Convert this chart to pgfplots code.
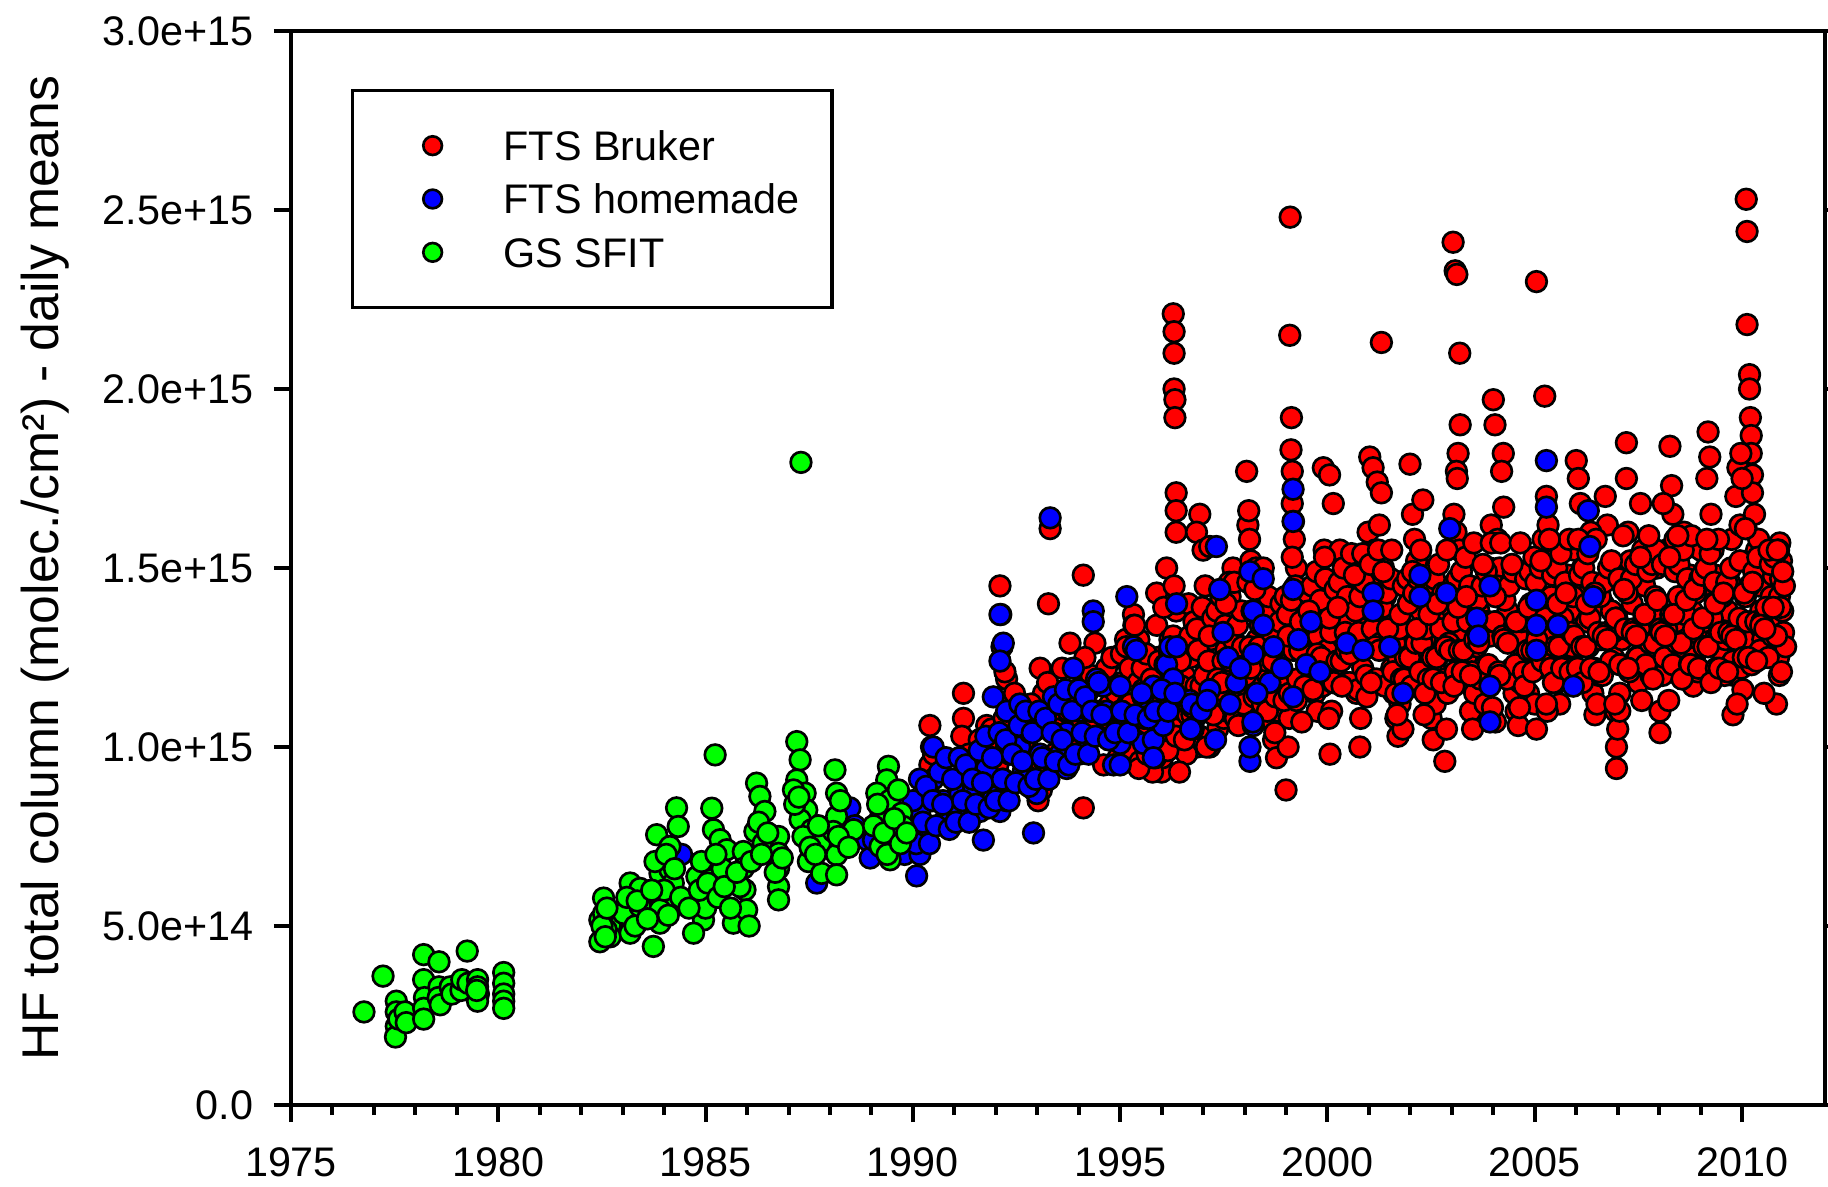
\documentclass[border=0pt]{standalone}
\usepackage{fontspec}
\setmainfont{Liberation Sans}
\usepackage{pgfplots}
\usepackage{pgfplotstable}
\pgfplotsset{compat=1.18}
\usetikzlibrary{calc}
\definecolor{fred}{RGB}{255,0,0}
\definecolor{fblue}{RGB}{0,0,255}
\definecolor{fgreen}{RGB}{0,255,0}

\pgfplotstableread{
x y
1990.41 1.06e15
1990.41 0.95e15
1990.45 1.00e15
1990.50 0.98e15
1991.14 0.97e15
1991.22 1.15e15
1991.22 1.08e15
1991.18 1.03e15
1991.30 0.80e15
1991.40 0.92e15
1991.55 0.88e15
1991.78 1.06e15
1991.78 1.01e15
1991.94 0.93e15
1991.70 0.96e15
1991.85 0.89e15
1992.10 1.45e15
1992.12 1.37e15
1992.15 1.28e15
1992.26 1.19e15
1992.22 1.21e15
1992.30 1.12e15
1992.40 1.05e15
1992.55 0.98e15
1992.65 0.92e15
1992.80 0.95e15
1992.92 0.88e15
1992.35 1.00e15
1992.50 1.08e15
1993.07 1.22e15
1993.15 1.15e15
1993.27 1.40e15
1993.31 1.61e15
1993.35 1.10e15
1993.45 1.05e15
1993.55 1.15e15
1993.65 1.13e15
1993.75 1.10e15
1993.79 1.29e15
1993.90 1.02e15
1993.20 0.95e15
1993.10 0.88e15
1993.02 0.85e15
1994.11 1.48e15
1994.11 0.83e15
1994.05 1.08e15
1994.20 1.15e15
1994.30 1.20e15
1994.39 1.29e15
1994.45 1.10e15
1994.55 1.05e15
1994.67 1.22e15
1994.75 1.12e15
1994.85 1.02e15
1994.95 0.97e15
1994.60 0.95e15
1994.80 1.25e15
1995.05 1.18e15
1995.15 1.30e15
1995.25 1.25e15
1995.32 1.37e15
1995.40 1.10e15
1995.48 1.05e15
1995.56 0.98e15
1995.60 0.95e15
1995.70 1.00e15
1995.80 1.10e15
1995.88 1.43e15
1995.88 1.34e15
1995.92 1.20e15
1995.95 1.05e15
1995.20 1.12e15
1995.35 1.02e15
1996.28 2.21e15
1996.30 2.16e15
1996.30 2.10e15
1996.30 2.00e15
1996.32 1.97e15
1996.32 1.92e15
1996.35 1.71e15
1996.35 1.66e15
1996.35 1.60e15
1996.12 1.50e15
1996.30 1.45e15
1996.35 1.38e15
1996.40 1.30e15
1996.35 1.25e15
1996.30 1.18e15
1996.00 0.93e15
1996.02 0.97e15
1996.05 1.02e15
1996.10 1.08e15
1996.15 1.15e15
1996.20 1.22e15
1996.45 1.12e15
1996.55 1.20e15
1996.60 1.30e15
1996.65 1.40e15
1996.70 1.25e15
1996.75 1.15e15
1996.80 1.08e15
1996.85 1.00e15
1996.90 1.10e15
1996.95 1.18e15
1996.50 1.05e15
1996.92 1.65e15
1996.84 1.60e15
1997.00 1.55e15
1997.05 1.45e15
1997.10 1.38e15
1997.16 1.56e15
1997.20 1.30e15
1997.25 1.22e15
1997.16 1.00e15
1997.30 1.12e15
1997.35 1.05e15
1997.45 1.18e15
1997.55 1.27e15
1997.60 1.35e15
1997.65 1.42e15
1997.72 1.50e15
1997.80 1.25e15
1997.85 1.15e15
1997.90 1.10e15
1997.95 1.20e15
1997.40 1.40e15
1997.50 1.08e15
1998.05 1.77e15
1998.08 1.62e15
1998.12 1.58e15
1998.15 1.52e15
1998.20 1.45e15
1998.25 1.38e15
1998.30 1.30e15
1998.35 1.25e15
1998.40 1.18e15
1998.50 1.12e15
1998.55 1.20e15
1998.60 1.08e15
1998.70 1.02e15
1998.77 0.97e15
1998.80 1.10e15
1998.85 1.25e15
1998.90 1.35e15
1998.95 1.15e15
1998.10 1.66e15
1998.45 1.42e15
1999.10 2.48e15
1999.09 2.15e15
1999.13 1.92e15
1999.12 1.83e15
1999.15 1.77e15
1999.15 1.68e15
1999.18 1.63e15
1999.20 1.58e15
1999.00 0.88e15
1999.05 1.00e15
1999.08 1.08e15
1999.25 1.50e15
1999.30 1.42e15
1999.35 1.35e15
1999.40 1.28e15
1999.50 1.20e15
1999.55 1.30e15
1999.60 1.40e15
1999.65 1.22e15
1999.70 1.15e15
1999.75 1.10e15
1999.80 1.25e15
1999.85 1.35e15
1999.90 1.78e15
1999.92 1.55e15
1999.95 1.45e15
2000.05 1.76e15
2000.14 1.68e15
2000.06 0.98e15
2000.10 1.10e15
2000.15 1.20e15
2000.20 1.30e15
2000.25 1.45e15
2000.30 1.55e15
2000.35 1.38e15
2000.40 1.25e15
2000.45 1.18e15
2000.50 1.35e15
2000.55 1.50e15
2000.60 1.42e15
2000.65 1.28e15
2000.70 1.15e15
2000.78 1.00e15
2000.80 1.08e15
2000.85 1.22e15
2000.90 1.33e15
2000.95 1.45e15
2000.98 1.60e15
2001.02 1.81e15
2001.10 1.78e15
2001.20 1.74e15
2001.30 2.13e15
2001.30 1.71e15
2001.25 1.62e15
2001.15 1.55e15
2001.35 1.50e15
2001.40 1.42e15
2001.45 1.35e15
2001.50 1.28e15
2001.55 1.22e15
2001.60 1.15e15
2001.65 1.08e15
2001.70 1.03e15
2001.75 1.12e15
2001.82 1.05e15
2001.85 1.18e15
2001.90 1.30e15
2001.95 1.40e15
2001.99 1.79e15
2001.05 1.45e15
2001.12 1.38e15
2001.70 1.25e15
2002.05 1.65e15
2002.10 1.58e15
2002.15 1.52e15
2002.20 1.45e15
2002.30 1.69e15
2002.25 1.38e15
2002.35 1.30e15
2002.40 1.22e15
2002.45 1.15e15
2002.50 1.08e15
2002.55 1.02e15
2002.60 1.12e15
2002.65 1.25e15
2002.70 1.35e15
2002.75 1.20e15
2002.83 0.96e15
2002.87 1.05e15
2002.90 1.15e15
2002.95 1.30e15
2002.98 1.45e15
2002.45 1.40e15
2002.15 1.28e15
2003.03 2.41e15
2003.08 2.33e15
2003.12 2.32e15
2003.19 2.10e15
2003.20 1.90e15
2003.15 1.82e15
2003.11 1.77e15
2003.13 1.75e15
2003.05 1.65e15
2003.10 1.60e15
2003.18 1.55e15
2003.22 1.48e15
2003.25 1.40e15
2003.30 1.32e15
2003.35 1.25e15
2003.40 1.18e15
2003.45 1.10e15
2003.50 1.05e15
2003.55 1.15e15
2003.60 1.28e15
2003.65 1.38e15
2003.70 1.30e15
2003.75 1.22e15
2003.80 1.12e15
2003.85 1.35e15
2003.90 1.50e15
2003.95 1.62e15
2003.00 1.20e15
2004.00 1.97e15
2004.04 1.90e15
2004.24 1.82e15
2004.20 1.77e15
2004.25 1.67e15
2004.10 1.58e15
2004.15 1.50e15
2004.30 1.45e15
2004.35 1.38e15
2004.40 1.30e15
2004.45 1.22e15
2004.50 1.15e15
2004.55 1.10e15
2004.60 1.06e15
2004.65 1.18e15
2004.70 1.28e15
2004.75 1.36e15
2004.80 1.25e15
2004.85 1.15e15
2004.90 1.40e15
2004.95 1.50e15
2004.05 1.07e15
2004.20 1.20e15
2005.04 2.30e15
2005.24 1.98e15
2005.04 1.05e15
2005.00 1.12e15
2005.08 1.22e15
2005.10 1.35e15
2005.15 1.48e15
2005.20 1.58e15
2005.28 1.70e15
2005.32 1.62e15
2005.35 1.52e15
2005.40 1.42e15
2005.45 1.32e15
2005.50 1.25e15
2005.55 1.18e15
2005.60 1.12e15
2005.65 1.20e15
2005.70 1.30e15
2005.75 1.40e15
2005.80 1.48e15
2005.85 1.38e15
2005.90 1.28e15
2005.95 1.55e15
2005.30 1.10e15
2006.00 1.80e15
2006.05 1.75e15
2006.10 1.68e15
2006.12 1.58e15
2006.15 1.50e15
2006.20 1.42e15
2006.25 1.35e15
2006.30 1.28e15
2006.35 1.22e15
2006.40 1.15e15
2006.45 1.09e15
2006.50 1.12e15
2006.55 1.20e15
2006.60 1.30e15
2006.65 1.40e15
2006.70 1.70e15
2006.75 1.62e15
2006.80 1.50e15
2006.85 1.38e15
2006.90 1.25e15
2006.95 1.10e15
2006.35 1.60e15
2006.97 1.00e15
2006.97 0.94e15
2007.00 1.05e15
2007.05 1.15e15
2007.10 1.30e15
2007.15 1.45e15
2007.21 1.85e15
2007.21 1.75e15
2007.25 1.60e15
2007.30 1.52e15
2007.35 1.40e15
2007.40 1.32e15
2007.45 1.25e15
2007.50 1.18e15
2007.55 1.68e15
2007.60 1.55e15
2007.65 1.45e15
2007.70 1.35e15
2007.75 1.28e15
2007.80 1.20e15
2007.85 1.30e15
2007.90 1.42e15
2007.95 1.50e15
2007.05 1.10e15
2008.02 1.04e15
2008.02 1.10e15
2008.08 1.20e15
2008.12 1.35e15
2008.18 1.55e15
2008.26 1.84e15
2008.30 1.73e15
2008.33 1.65e15
2008.38 1.58e15
2008.42 1.50e15
2008.46 1.42e15
2008.50 1.35e15
2008.55 1.28e15
2008.60 1.22e15
2008.65 1.30e15
2008.70 1.40e15
2008.75 1.48e15
2008.80 1.38e15
2008.82 1.17e15
2008.85 1.25e15
2008.90 1.32e15
2008.95 1.45e15
2008.10 1.68e15
2008.60 1.60e15
2009.18 1.88e15
2009.22 1.81e15
2009.15 1.75e15
2009.00 1.55e15
2009.05 1.45e15
2009.10 1.35e15
2009.25 1.65e15
2009.30 1.55e15
2009.35 1.48e15
2009.40 1.40e15
2009.45 1.32e15
2009.50 1.22e15
2009.55 1.25e15
2009.60 1.30e15
2009.65 1.38e15
2009.70 1.46e15
2009.75 1.58e15
2009.78 1.09e15
2009.80 1.20e15
2009.85 1.70e15
2009.90 1.78e15
2009.95 1.62e15
2010.10 2.53e15
2010.12 2.44e15
2010.12 2.18e15
2010.18 2.04e15
2010.18 2.00e15
2010.20 1.92e15
2010.22 1.87e15
2010.22 1.82e15
2010.25 1.76e15
2010.25 1.71e15
2010.10 1.61e15
2010.00 1.75e15
2009.97 1.82e15
2010.02 1.16e15
2010.05 1.30e15
2010.08 1.42e15
2010.15 1.52e15
2010.30 1.65e15
2010.35 1.55e15
2010.40 1.45e15
2010.45 1.38e15
2010.50 1.30e15
2010.55 1.25e15
2010.60 1.28e15
2010.65 1.35e15
2010.70 1.42e15
2010.75 1.48e15
2010.40 1.58e15
2010.28 1.50e15
2010.80 1.36e15
2010.83 1.12e15
2010.85 1.30e15
2010.88 1.25e15
2010.90 1.42e15
2010.91 1.57e15
2010.93 1.47e15
2010.95 1.52e15
2010.98 1.38e15
2011.00 1.32e15
2011.02 1.45e15
2011.05 1.28e15
2010.90 1.20e15
}\brukertab

\pgfplotstableread{
x y
1991.05 0.90e15
1991.35 0.98e15
1991.60 1.02e15
1991.90 1.05e15
1992.05 0.95e15
1992.20 1.08e15
1992.45 1.15e15
1992.70 1.02e15
1992.85 1.12e15
1993.00 1.05e15
1993.25 1.18e15
1993.40 0.98e15
1993.60 1.22e15
1993.85 1.15e15
1994.00 0.98e15
1994.15 1.25e15
1994.25 1.05e15
1994.50 1.18e15
1994.70 1.08e15
1994.90 1.15e15
1995.10 1.05e15
1995.30 1.20e15
1995.45 1.30e15
1995.65 1.15e15
1995.90 1.25e15
1996.20 1.30e15
1996.40 1.00e15
1996.60 0.98e15
1995.03 1.26e15
1995.08 1.04e15
1995.13 1.30e15
1995.18 1.12e15
1995.23 1.22e15
1995.28 0.98e15
1995.33 1.34e15
1995.38 1.08e15
1995.43 1.18e15
1995.48 0.96e15
1995.53 1.22e15
1995.58 1.08e15
1995.63 1.26e15
1995.68 1.00e15
1995.73 1.08e15
1995.78 0.93e15
1995.83 1.12e15
1995.88 0.98e15
1995.93 1.24e15
1995.98 1.04e15
1995.05 1.06e15
1995.15 1.28e15
1995.25 1.12e15
1995.35 1.34e15
1995.45 0.94e15
1995.55 1.16e15
1995.65 0.98e15
1995.75 1.19e15
1995.85 0.97e15
1995.95 1.07e15
1996.03 1.13e15
1996.08 1.23e15
1996.13 1.01e15
1996.18 1.27e15
1996.23 1.13e15
1996.28 1.31e15
1996.33 1.05e15
1996.38 1.13e15
1996.43 0.93e15
1996.48 1.17e15
1996.53 1.03e15
1996.58 1.29e15
1996.63 1.09e15
1996.68 1.31e15
1996.73 1.09e15
1996.78 1.35e15
1996.83 1.17e15
1996.88 1.27e15
1996.93 1.03e15
1996.98 1.39e15
1996.05 1.39e15
1996.15 0.99e15
1996.25 1.21e15
1996.35 1.03e15
1996.45 1.24e15
1996.55 1.02e15
1996.65 1.12e15
1996.75 1.11e15
1996.85 1.33e15
1996.95 1.17e15
1997.03 1.20e15
1997.08 1.00e15
1997.13 1.24e15
1997.18 1.10e15
1997.23 1.36e15
1997.28 1.16e15
1997.33 1.38e15
1997.38 1.16e15
1997.43 1.42e15
1997.48 1.24e15
1997.53 1.34e15
1997.58 1.10e15
1997.63 1.46e15
1997.68 1.20e15
1997.73 1.30e15
1997.78 1.08e15
1997.83 1.34e15
1997.88 1.20e15
1997.93 1.38e15
1997.98 1.12e15
1997.05 1.10e15
1997.15 1.31e15
1997.25 1.09e15
1997.35 1.19e15
1997.45 1.18e15
1997.55 1.40e15
1997.65 1.24e15
1997.75 1.46e15
1997.85 1.06e15
1997.95 1.28e15
1998.03 1.20e15
1998.08 1.46e15
1998.13 1.28e15
1998.18 1.38e15
1998.23 1.14e15
1998.28 1.50e15
1998.33 1.24e15
1998.38 1.34e15
1998.43 1.12e15
1998.48 1.38e15
1998.53 1.24e15
1998.58 1.42e15
1998.63 1.16e15
1998.68 1.24e15
1998.73 1.04e15
1998.78 1.28e15
1998.83 1.14e15
1998.88 1.40e15
1998.93 1.20e15
1998.98 1.42e15
1998.05 1.23e15
1998.15 1.22e15
1998.25 1.44e15
1998.35 1.28e15
1998.45 1.50e15
1998.55 1.10e15
1998.65 1.32e15
1998.75 1.14e15
1998.85 1.35e15
1998.95 1.13e15
1999.03 1.37e15
1999.08 1.15e15
1999.13 1.41e15
1999.18 1.27e15
1999.23 1.45e15
1999.28 1.19e15
1999.33 1.27e15
1999.38 1.07e15
1999.43 1.31e15
1999.48 1.17e15
1999.53 1.43e15
1999.58 1.23e15
1999.63 1.45e15
1999.68 1.23e15
1999.73 1.49e15
1999.78 1.31e15
1999.83 1.41e15
1999.88 1.17e15
1999.93 1.53e15
1999.98 1.27e15
1999.05 1.31e15
1999.15 1.53e15
1999.25 1.13e15
1999.35 1.35e15
1999.45 1.17e15
1999.55 1.38e15
1999.65 1.16e15
1999.75 1.26e15
1999.85 1.25e15
1999.95 1.47e15
2000.03 1.08e15
2000.08 1.32e15
2000.13 1.18e15
2000.18 1.44e15
2000.23 1.24e15
2000.28 1.46e15
2000.33 1.24e15
2000.38 1.50e15
2000.43 1.32e15
2000.48 1.42e15
2000.53 1.18e15
2000.58 1.54e15
2000.63 1.28e15
2000.68 1.38e15
2000.73 1.16e15
2000.78 1.42e15
2000.83 1.28e15
2000.88 1.46e15
2000.93 1.20e15
2000.98 1.28e15
2000.05 1.36e15
2000.15 1.18e15
2000.25 1.39e15
2000.35 1.17e15
2000.45 1.27e15
2000.55 1.26e15
2000.65 1.48e15
2000.75 1.32e15
2000.85 1.54e15
2000.95 1.14e15
2001.03 1.51e15
2001.08 1.33e15
2001.13 1.43e15
2001.18 1.19e15
2001.23 1.55e15
2001.28 1.29e15
2001.33 1.39e15
2001.38 1.17e15
2001.43 1.43e15
2001.48 1.29e15
2001.53 1.47e15
2001.58 1.21e15
2001.63 1.29e15
2001.68 1.09e15
2001.73 1.33e15
2001.78 1.19e15
2001.83 1.45e15
2001.88 1.25e15
2001.93 1.47e15
2001.98 1.25e15
2001.05 1.18e15
2001.15 1.28e15
2001.25 1.27e15
2001.35 1.49e15
2001.45 1.33e15
2001.55 1.55e15
2001.65 1.15e15
2001.75 1.37e15
2001.85 1.19e15
2001.95 1.40e15
2002.03 1.17e15
2002.08 1.43e15
2002.13 1.29e15
2002.18 1.47e15
2002.23 1.21e15
2002.28 1.29e15
2002.33 1.09e15
2002.38 1.33e15
2002.43 1.19e15
2002.48 1.45e15
2002.53 1.25e15
2002.58 1.47e15
2002.63 1.25e15
2002.68 1.51e15
2002.73 1.33e15
2002.78 1.43e15
2002.83 1.19e15
2002.88 1.55e15
2002.93 1.29e15
2002.98 1.39e15
2002.05 1.49e15
2002.15 1.33e15
2002.25 1.55e15
2002.35 1.15e15
2002.45 1.37e15
2002.55 1.19e15
2002.65 1.40e15
2002.75 1.18e15
2002.85 1.28e15
2002.95 1.27e15
2003.03 1.35e15
2003.08 1.21e15
2003.13 1.47e15
2003.18 1.27e15
2003.23 1.49e15
2003.28 1.27e15
2003.33 1.53e15
2003.38 1.35e15
2003.43 1.45e15
2003.48 1.21e15
2003.53 1.57e15
2003.58 1.31e15
2003.63 1.41e15
2003.68 1.19e15
2003.73 1.45e15
2003.78 1.31e15
2003.83 1.49e15
2003.88 1.23e15
2003.93 1.31e15
2003.98 1.11e15
2003.05 1.17e15
2003.15 1.39e15
2003.25 1.21e15
2003.35 1.42e15
2003.45 1.20e15
2003.55 1.30e15
2003.65 1.29e15
2003.75 1.51e15
2003.85 1.35e15
2003.95 1.57e15
2004.03 1.35e15
2004.08 1.45e15
2004.13 1.21e15
2004.18 1.57e15
2004.23 1.31e15
2004.28 1.41e15
2004.33 1.19e15
2004.38 1.45e15
2004.43 1.31e15
2004.48 1.49e15
2004.53 1.23e15
2004.58 1.31e15
2004.63 1.11e15
2004.68 1.35e15
2004.73 1.21e15
2004.78 1.47e15
2004.83 1.27e15
2004.88 1.49e15
2004.93 1.27e15
2004.98 1.53e15
2004.05 1.42e15
2004.15 1.20e15
2004.25 1.30e15
2004.35 1.29e15
2004.45 1.51e15
2004.55 1.35e15
2004.65 1.57e15
2004.75 1.17e15
2004.85 1.39e15
2004.95 1.21e15
2005.03 1.46e15
2005.08 1.32e15
2005.13 1.50e15
2005.18 1.24e15
2005.23 1.32e15
2005.28 1.12e15
2005.33 1.36e15
2005.38 1.22e15
2005.43 1.48e15
2005.48 1.28e15
2005.53 1.50e15
2005.58 1.28e15
2005.63 1.54e15
2005.68 1.36e15
2005.73 1.46e15
2005.78 1.22e15
2005.83 1.58e15
2005.88 1.32e15
2005.93 1.42e15
2005.98 1.20e15
2005.05 1.30e15
2005.15 1.52e15
2005.25 1.36e15
2005.35 1.58e15
2005.45 1.18e15
2005.55 1.40e15
2005.65 1.22e15
2005.75 1.43e15
2005.85 1.21e15
2005.95 1.31e15
2006.03 1.22e15
2006.08 1.48e15
2006.13 1.28e15
2006.18 1.50e15
2006.23 1.28e15
2006.28 1.54e15
2006.33 1.36e15
2006.38 1.46e15
2006.43 1.22e15
2006.48 1.58e15
2006.53 1.32e15
2006.58 1.42e15
2006.63 1.20e15
2006.68 1.46e15
2006.73 1.32e15
2006.78 1.50e15
2006.83 1.24e15
2006.88 1.32e15
2006.93 1.12e15
2006.98 1.36e15
2006.05 1.58e15
2006.15 1.18e15
2006.25 1.40e15
2006.35 1.22e15
2006.45 1.43e15
2006.55 1.21e15
2006.65 1.31e15
2006.75 1.30e15
2006.85 1.52e15
2006.95 1.36e15
2007.03 1.47e15
2007.08 1.23e15
2007.13 1.59e15
2007.18 1.33e15
2007.23 1.43e15
2007.28 1.21e15
2007.33 1.47e15
2007.38 1.33e15
2007.43 1.51e15
2007.48 1.25e15
2007.53 1.33e15
2007.58 1.13e15
2007.63 1.37e15
2007.68 1.23e15
2007.73 1.49e15
2007.78 1.29e15
2007.83 1.51e15
2007.88 1.29e15
2007.93 1.55e15
2007.98 1.37e15
2007.05 1.23e15
2007.15 1.44e15
2007.25 1.22e15
2007.35 1.32e15
2007.45 1.31e15
2007.55 1.53e15
2007.65 1.37e15
2007.75 1.59e15
2007.85 1.19e15
2007.95 1.41e15
2008.03 1.33e15
2008.08 1.51e15
2008.13 1.25e15
2008.18 1.33e15
2008.23 1.13e15
2008.28 1.37e15
2008.33 1.23e15
2008.38 1.49e15
2008.43 1.29e15
2008.48 1.51e15
2008.53 1.29e15
2008.58 1.55e15
2008.63 1.37e15
2008.68 1.47e15
2008.73 1.23e15
2008.78 1.59e15
2008.83 1.33e15
2008.88 1.43e15
2008.93 1.21e15
2008.98 1.47e15
2008.05 1.32e15
2008.15 1.31e15
2008.25 1.53e15
2008.35 1.37e15
2008.45 1.59e15
2008.55 1.19e15
2008.65 1.41e15
2008.75 1.23e15
2008.85 1.44e15
2008.95 1.22e15
2009.03 1.48e15
2009.08 1.28e15
2009.13 1.50e15
2009.18 1.28e15
2009.23 1.54e15
2009.28 1.36e15
2009.33 1.46e15
2009.38 1.22e15
2009.43 1.58e15
2009.48 1.32e15
2009.53 1.42e15
2009.58 1.20e15
2009.63 1.46e15
2009.68 1.32e15
2009.73 1.50e15
2009.78 1.24e15
2009.83 1.32e15
2009.88 1.12e15
2009.93 1.36e15
2009.98 1.22e15
2009.05 1.36e15
2009.15 1.58e15
2009.25 1.18e15
2009.35 1.40e15
2009.45 1.22e15
2009.55 1.43e15
2009.65 1.21e15
2009.75 1.31e15
2009.85 1.30e15
2009.95 1.52e15
2010.03 1.25e15
2010.08 1.61e15
2010.13 1.35e15
2010.18 1.45e15
2010.23 1.23e15
2010.28 1.49e15
2010.33 1.35e15
2010.38 1.53e15
2010.43 1.27e15
2010.48 1.35e15
2010.53 1.15e15
2010.58 1.39e15
2010.63 1.25e15
2010.68 1.51e15
2010.73 1.31e15
2010.78 1.53e15
2010.83 1.31e15
2010.88 1.55e15
2010.93 1.39e15
2010.98 1.49e15
2010.05 1.43e15
2010.15 1.25e15
2010.25 1.46e15
2010.35 1.24e15
2010.45 1.34e15
2010.55 1.33e15
2010.65 1.55e15
2010.75 1.39e15
2010.85 1.55e15
2010.95 1.21e15
}\brukertabb

\pgfplotstableread{
x y
1984.42 0.70e15
1987.68 0.62e15
1988.48 0.83e15
1988.60 0.78e15
1988.90 0.74e15
1988.97 0.69e15
1989.05 0.74e15
1989.29 0.82e15
1989.69 0.74e15
1989.50 0.78e15
1989.80 0.70e15
1990.09 0.64e15
1990.17 0.82e15
1990.17 0.70e15
1990.25 0.75e15
1990.49 0.91e15
1990.49 1.00e15
1990.60 0.85e15
1990.73 0.85e15
1990.82 0.81e15
1991.06 0.82e15
1991.14 0.87e15
1991.30 0.85e15
1991.46 0.89e15
1991.62 0.82e15
1991.70 0.74e15
1991.78 0.94e15
1991.94 0.86e15
1991.94 1.14e15
1992.10 1.37e15
1992.18 1.29e15
1992.10 1.24e15
1992.10 0.82e15
1992.18 0.91e15
1992.26 0.85e15
1992.34 0.98e15
1992.26 1.10e15
1992.58 1.12e15
1992.58 1.00e15
1992.66 0.93e15
1992.83 1.04e15
1992.91 0.76e15
1992.99 0.87e15
1993.07 0.98e15
1993.23 1.10e15
1993.31 1.64e15
1993.39 1.14e15
1993.39 1.04e15
1993.55 0.98e15
1993.71 0.94e15
1993.71 1.04e15
1993.87 1.22e15
1994.03 1.10e15
1994.19 1.00e15
1994.27 1.10e15
1994.35 1.38e15
1994.35 1.35e15
1994.43 1.19e15
1994.59 1.17e15
1994.67 1.10e15
1994.84 0.95e15
1995.00 1.10e15
1995.00 1.17e15
1995.00 1.01e15
1995.07 1.09e15
1995.00 0.95e15
1995.16 1.42e15
1995.32 1.28e15
1995.39 1.27e15
1995.55 1.14e15
1995.56 1.01e15
1995.80 1.17e15
1995.80 1.02e15
1995.80 0.97e15
1996.04 1.06e15
1996.12 1.23e15
1996.20 1.28e15
1996.28 1.19e15
1996.36 1.28e15
1996.36 1.40e15
1996.68 1.13e15
1996.76 1.05e15
1997.16 1.16e15
1997.32 1.56e15
1997.40 1.44e15
1997.48 1.32e15
1997.80 1.18e15
1998.13 1.49e15
1998.21 1.38e15
1998.45 1.47e15
1998.45 1.34e15
1998.21 1.26e15
1998.61 1.18e15
1998.21 1.06e15
1998.13 0.96e15
1998.13 1.00e15
1999.17 1.72e15
1999.17 1.63e15
1999.17 1.44e15
1999.17 1.14e15
1999.49 1.23e15
1999.82 1.21e15
2000.46 1.29e15
2000.86 1.27e15
2001.10 1.43e15
2001.10 1.38e15
2001.50 1.28e15
2001.82 1.15e15
2002.23 1.48e15
2002.23 1.42e15
2002.87 1.43e15
2002.95 1.61e15
2003.60 1.36e15
2003.64 1.31e15
2003.92 1.45e15
2003.92 1.17e15
2003.92 1.07e15
2005.04 1.41e15
2005.04 1.34e15
2005.04 1.27e15
2005.28 1.80e15
2005.28 1.67e15
2005.56 1.34e15
2005.93 1.17e15
2006.29 1.66e15
2006.33 1.56e15
2006.41 1.42e15
1990.00 0.85e15
1990.08 0.73e15
1990.16 0.91e15
1990.24 0.79e15
1990.32 0.89e15
1990.40 0.73e15
1990.48 0.85e15
1990.56 0.78e15
1990.64 0.93e15
1990.72 0.84e15
1990.80 0.97e15
1990.88 0.77e15
1990.96 0.91e15
1991.04 0.79e15
1991.12 0.97e15
1991.20 0.85e15
1991.28 0.95e15
1991.36 0.79e15
1991.44 0.91e15
1991.52 0.84e15
1991.60 0.99e15
1991.68 0.90e15
1991.76 1.03e15
1991.84 0.83e15
1991.92 0.97e15
1992.00 0.85e15
1992.08 1.04e15
1992.16 0.91e15
1992.24 1.02e15
1992.32 0.85e15
1992.40 0.98e15
1992.48 0.90e15
1992.56 1.06e15
1992.64 0.96e15
1992.72 1.10e15
1992.80 0.89e15
1992.88 1.04e15
1992.96 0.91e15
1993.04 1.10e15
1993.12 0.97e15
1993.20 1.08e15
1993.28 0.91e15
1993.36 1.04e15
1993.44 0.96e15
1993.52 1.12e15
1993.60 1.02e15
1993.68 1.16e15
1993.76 0.95e15
1993.84 1.10e15
1993.92 0.98e15
1994.00 1.16e15
1994.08 1.04e15
1994.16 1.14e15
1994.24 0.98e15
1994.32 1.10e15
1994.40 1.03e15
1994.48 1.18e15
1994.56 1.09e15
1994.72 1.02e15
1994.88 1.04e15
1995.04 1.10e15
1995.20 1.04e15
1995.36 1.09e15
1995.52 1.15e15
1995.68 1.08e15
1995.84 1.10e15
1996.00 1.16e15
1996.16 1.10e15
1996.32 1.15e15
1996.72 1.12e15
1996.70 1.05e15
1996.95 1.10e15
1997.10 1.13e15
1997.30 1.02e15
1997.65 1.12e15
1998.20 1.07e15
1997.60 1.25e15
1997.90 1.22e15
1998.30 1.15e15
1998.70 1.28e15
1998.90 1.22e15
1999.30 1.30e15
1999.60 1.35e15
}\hometab

\pgfplotstableread{
x y
1976.76 0.26e15
1977.22 0.36e15
1977.54 0.29e15
1977.54 0.26e15
1977.54 0.22e15
1977.52 0.19e15
1977.60 0.24e15
1977.75 0.26e15
1977.78 0.23e15
1978.20 0.42e15
1978.20 0.35e15
1978.22 0.30e15
1978.20 0.27e15
1978.20 0.24e15
1978.57 0.40e15
1978.57 0.33e15
1978.55 0.30e15
1978.60 0.28e15
1978.84 0.33e15
1978.88 0.31e15
1979.10 0.32e15
1979.12 0.35e15
1979.25 0.43e15
1979.27 0.34e15
1979.50 0.35e15
1979.50 0.33e15
1979.52 0.31e15
1979.50 0.29e15
1979.48 0.32e15
1980.13 0.37e15
1980.13 0.34e15
1980.13 0.31e15
1980.13 0.29e15
1980.13 0.27e15
1982.54 0.578e15
1982.45 0.517e15
1982.70 0.503e15
1982.45 0.456e15
1982.70 0.470e15
1982.54 0.535e15
1982.60 0.49e15
1983.18 0.62e15
1983.42 0.605e15
1983.18 0.517e15
1983.18 0.48e15
1983.02 0.535e15
1983.42 0.554e15
1983.74 0.443e15
1983.82 0.755e15
1983.90 0.647e15
1983.82 0.592e15
1983.90 0.508e15
1984.14 0.722e15
1984.30 0.83e15
1984.34 0.778e15
1984.14 0.657e15
1984.14 0.573e15
1984.22 0.62e15
1983.90 0.545e15
1984.00 0.60e15
1984.79 0.638e15
1985.11 0.629e15
1984.79 0.573e15
1985.11 0.573e15
1984.95 0.517e15
1984.71 0.48e15
1985.15 0.829e15
1985.19 0.769e15
1985.35 0.741e15
1985.51 0.713e15
1985.23 0.978e15
1985.67 0.508e15
1985.00 0.55e15
1985.40 0.66e15
1985.91 0.708e15
1985.91 0.661e15
1985.95 0.601e15
1985.99 0.545e15
1985.83 0.61e15
1986.23 0.899e15
1986.31 0.862e15
1986.43 0.82e15
1986.19 0.764e15
1986.39 0.731e15
1986.76 0.75e15
1986.76 0.703e15
1986.76 0.661e15
1986.76 0.61e15
1986.76 0.573e15
1987.20 1.015e15
1987.28 0.964e15
1987.20 0.908e15
1987.40 0.871e15
1987.44 0.824e15
1987.28 0.797e15
1987.56 0.769e15
1987.76 0.731e15
1987.48 0.68e15
1987.80 0.647e15
1987.12 0.88e15
1987.30 1.795e15
1988.12 0.936e15
1988.16 0.871e15
1988.16 0.806e15
1988.08 0.764e15
1988.16 0.699e15
1988.16 0.643e15
1988.57 0.769e15
1989.41 0.946e15
1989.37 0.908e15
1989.13 0.871e15
1989.45 0.852e15
1989.73 0.815e15
1989.77 0.778e15
1989.49 0.75e15
1989.45 0.685e15
1989.21 0.722e15
1989.21 0.80e15
1982.50 0.50e15
1982.62 0.55e15
1982.58 0.47e15
1983.10 0.58e15
1983.30 0.50e15
1983.35 0.57e15
1983.60 0.52e15
1983.70 0.60e15
1983.78 0.68e15
1984.05 0.70e15
1984.10 0.53e15
1984.25 0.66e15
1984.40 0.58e15
1984.60 0.55e15
1984.85 0.60e15
1984.90 0.68e15
1985.05 0.62e15
1985.25 0.70e15
1985.30 0.58e15
1985.45 0.61e15
1985.60 0.55e15
1985.75 0.65e15
1986.05 0.50e15
1986.10 0.68e15
1986.28 0.79e15
1986.35 0.70e15
1986.50 0.76e15
1986.68 0.65e15
1986.85 0.69e15
1987.15 0.84e15
1987.25 0.86e15
1987.35 0.75e15
1987.52 0.72e15
1987.65 0.70e15
1987.72 0.78e15
1988.20 0.75e15
1988.25 0.85e15
1988.45 0.72e15
1989.05 0.78e15
1989.15 0.84e15
1989.30 0.76e15
1989.38 0.70e15
1989.55 0.80e15
1989.65 0.88e15
1989.70 0.73e15
1989.85 0.76e15
}\sfittab

\begin{document}
\begin{tikzpicture}
\begin{axis}[
  scale only axis,
  width=460.2pt, height=322.2pt,
  xmin=1975, xmax=2012, ymin=0, ymax=3e15,
  axis line style={line width=1.2pt},
  tick style={line width=1.2pt, black},
  tick align=outside,
  major tick length=5.1pt, minor tick length=3pt,
  xtick={1975,1980,1985,1990,1995,2000,2005,2010},
  xticklabels={1975,1980,1985,1990,1995,2000,2005,2010},
  minor x tick num=4,
  xtick pos=left,
  ytick={0,5e14,1e15,1.5e15,2e15,2.5e15,3e15},
  yticklabels={0.0,5.0e+14,1.0e+15,1.5e+15,2.0e+15,2.5e+15,3.0e+15},
  ytick pos=both,
  ticklabel style={font=\fontsize{12.4}{14}\selectfont},
  xticklabel style={yshift=-4.3pt},
  yticklabel style={xshift=-2.7pt, inner ysep=0pt},
  every axis y label/.style={at={(axis description cs:-0.160,0.5)}, rotate=90, anchor=center, font=\fontsize{15.5}{18}\selectfont},
  ylabel={HF total column (molec./cm²) - daily means},
  legend style={at={(axis description cs:0.0391,0.946)}, anchor=north west,
    draw=black, line width=1pt, fill=white,
    inner xsep=9.6pt, inner ysep=12pt, row sep=7pt, column sep=18.5pt,
    font=\fontsize{12.4}{14}\selectfont,
    nodes={inner sep=0pt, text height=9pt, text depth=0pt, anchor=west}},
  legend cell align=left,
  legend image code/.code={\path[draw=none,fill=none] (-14.4pt,0pt) -- (0pt,0pt); \draw[#1, mark size=2.8pt] plot coordinates {(0pt,0pt)};},
  clip=false,
]
\addplot[only marks, mark=*, mark size=3.1pt, mark options={draw=black, fill=fred, line width=0.8pt}] table[x=x, y=y] {\brukertab};
\addlegendentry{FTS Bruker}
\addplot[forget plot, only marks, mark=*, mark size=3.1pt, mark options={draw=black, fill=fred, line width=0.8pt}] table[x=x, y=y] {\brukertabb};
\addplot[only marks, mark=*, mark size=3.1pt, mark options={draw=black, fill=fblue, line width=0.8pt}] table[x=x, y=y] {\hometab};
\addlegendentry{FTS homemade}
\addplot[only marks, mark=*, mark size=3.1pt, mark options={draw=black, fill=fgreen, line width=0.8pt}] table[x=x, y=y] {\sfittab};
\addlegendentry{GS SFIT}
\coordinate (BL) at (rel axis cs:0,0);
\coordinate (TR) at (rel axis cs:1,1);
\end{axis}
\pgfresetboundingbox
\path[use as bounding box] ($(BL)+(-87.3pt,-24.3pt)$) rectangle ($(TR)+(0.9pt,9.3pt)$);
\end{tikzpicture}
\end{document}
